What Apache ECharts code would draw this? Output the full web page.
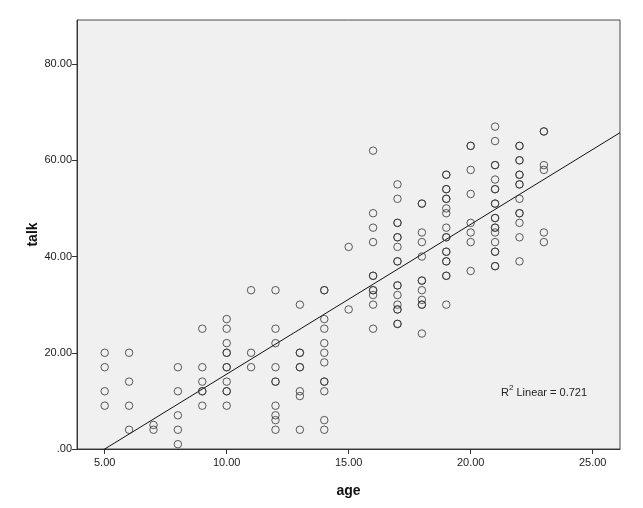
<!DOCTYPE html>
<html>
<head>
<meta charset="utf-8">
<script src="https://cdn.jsdelivr.net/npm/echarts@6/dist/echarts.min.js"></script>
<style>
html,body{margin:0;padding:0;background:#fff;}
#chart{width:643px;height:508px;}
</style>
</head>
<body>
<div id="chart"></div>
<script>
// ---- data ----
const ages = [5,6,7,8,9,10,11,12,13,14,15,16,17,18,19,20,21,22,23];
const talkByAge = [
  [20,17,12,9],
  [20,14,9,4],
  [5,4],
  [17,12,7,4,1],
  [25,17,14,12,12,9],
  [27,25,22,20,20,17,17,14,12,12,9],
  [33,20,17],
  [33,25,22,17,14,14,9,7,6,4],
  [30,20,20,17,17,12,11,4],
  [33,33,27,25,22,20,18,14,14,12,6,4],
  [42,29],
  [62,49,46,43,36,36,33,33,32,30,25],
  [55,52,47,47,44,44,42,39,39,34,34,32,30,29,29,26,26],
  [51,51,45,43,40,35,35,33,31,30,30,24],
  [57,57,54,54,52,52,50,49,46,44,44,41,41,39,39,36,36,30],
  [63,63,58,53,47,45,43,37],
  [67,64,59,59,56,54,54,51,51,48,48,46,46,45,43,41,41,38,38],
  [63,63,60,60,57,57,55,55,52,49,49,47,44,39],
  [66,66,59,58,45,43]
];
const xTicks = [5,10,15,20,25];
const yTicks = [0,20,40,60,80];
const xRange = [3.865, 26.12];
const yRange = [0, 89.16];
const fitIntercept = -15.57;
const fitSlope = 3.113;
const r2Text = '0.721';

// ---- build ----
const points = [];
ages.forEach((a, i) => talkByAge[i].forEach(t => points.push([a, t])));
const fitLine = [
  [xRange[0], fitIntercept + fitSlope * xRange[0]],
  [xRange[1], fitIntercept + fitSlope * xRange[1]]
];

function fmt(v){ return v === 0 ? '.00' : v.toFixed(2); }

const FONT = '"Liberation Sans", Arial, sans-serif';
const chart = echarts.init(document.getElementById('chart'), null, {renderer:'canvas'});
chart.setOption({
  animation: false,
  backgroundColor: '#ffffff',
  grid: {
    left: 77, right: 23, top: 20, bottom: 59,
    show: true, backgroundColor: '#f0f0f0', borderColor: '#4a4a4a', borderWidth: 1
  },
  xAxis: {
    type: 'value', min: xRange[0], max: xRange[1],
    name: 'age', nameLocation: 'middle', nameGap: 35, nameMoveOverlap: false,
    nameTextStyle: {fontFamily: FONT, fontSize: 14, fontWeight: 'bold', color: '#111'},
    axisLine: {show: true, onZero: false, lineStyle: {color: '#333', width: 1}},
    axisTick: {show: true, length: 5, customValues: xTicks, lineStyle: {color: '#333'}},
    axisLabel: {customValues: xTicks, formatter: fmt, margin: 8, fontFamily: FONT, fontSize: 11, color: '#222'},
    splitLine: {show: false}
  },
  yAxis: {
    type: 'value', min: yRange[0], max: yRange[1],
    name: 'talk', nameLocation: 'middle', nameGap: 37, nameRotate: 90, nameMoveOverlap: false,
    nameTextStyle: {fontFamily: FONT, fontSize: 14, fontWeight: 'bold', color: '#111'},
    axisLine: {show: true, onZero: false, lineStyle: {color: '#333', width: 1}},
    axisTick: {show: true, length: 5, customValues: yTicks, lineStyle: {color: '#333'}},
    axisLabel: {customValues: yTicks, formatter: fmt, margin: 5, fontFamily: FONT, fontSize: 11, color: '#222'},
    splitLine: {show: false}
  },
  series: [
    {
      type: 'line', data: fitLine, showSymbol: false, clip: true,
      lineStyle: {color: '#111', width: 1}, silent: true, z: 1
    },
    {
      type: 'scatter', data: points, symbol: 'circle', symbolSize: 7.5,
      itemStyle: {color: 'rgba(0,0,0,0)', borderColor: '#333', borderWidth: 1},
      z: 2
    }
  ],
  graphic: [{
    type: 'text', left: 501, top: 384,
    style: {
      text: '{n|R}{s|2}{n| Linear = ' + r2Text + '}',
      rich: {
        n: {fontFamily: FONT, fontSize: 11, fill: '#222', verticalAlign: 'bottom', lineHeight: 14},
        s: {fontFamily: FONT, fontSize: 8, fill: '#222', verticalAlign: 'top', lineHeight: 14, padding: [0,0,5,0]}
      }
    }
  }]
});
</script>
</body>
</html>
